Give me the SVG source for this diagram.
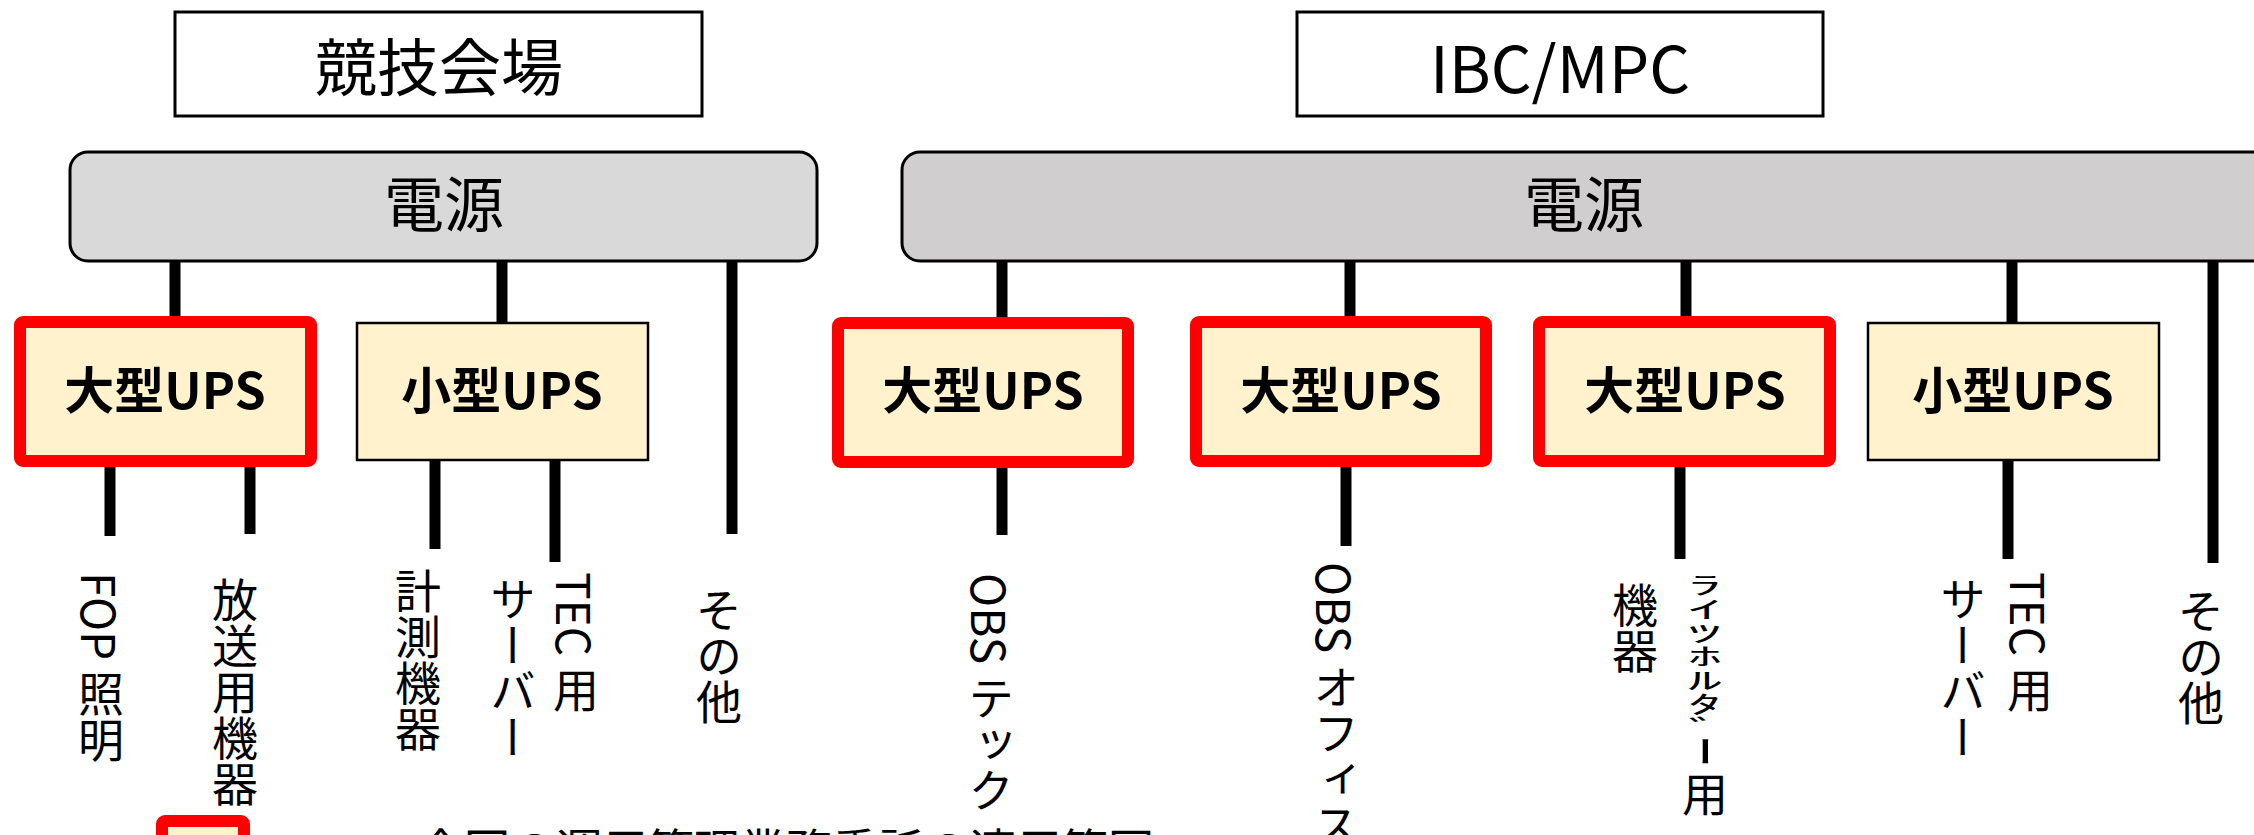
<svg xmlns="http://www.w3.org/2000/svg" width="2254" height="835" viewBox="0 0 2254 835">
<style>
text{font-family:"Noto Sans CJK JP","Liberation Sans",sans-serif;fill:#000}
.venue{fill:#fff;stroke:#000;stroke-width:3}
.power{stroke:#000;stroke-width:3}
.big{fill:#fff2cc;stroke:#ff0000;stroke-width:12}
.small{fill:#fff2cc;stroke:#000;stroke-width:2.5}
.t-venue{font-size:62px;text-anchor:middle;dominant-baseline:central}
.t-power{font-size:60px;text-anchor:middle;dominant-baseline:central}
.t-ups{font-size:50px;font-weight:700;text-anchor:middle;dominant-baseline:central}
.v{font-size:46px;writing-mode:vertical-rl}
.conn line{stroke:#000;stroke-width:11}
.legend-t{font-size:46px;dominant-baseline:central}
</style>
<rect width="2254" height="835" fill="#fff"/>
<g id="connectors" class="conn">
<line x1="175" y1="260" x2="175" y2="318"/>
<line x1="502" y1="260" x2="502" y2="323"/>
<line x1="732" y1="260" x2="732" y2="534"/>
<line x1="1002" y1="260" x2="1002" y2="318"/>
<line x1="1350" y1="260" x2="1350" y2="318"/>
<line x1="1686" y1="260" x2="1686" y2="318"/>
<line x1="2012" y1="260" x2="2012" y2="323"/>
<line x1="2213" y1="260" x2="2213" y2="563"/>
<line x1="110" y1="465" x2="110" y2="536"/>
<line x1="250" y1="465" x2="250" y2="534"/>
<line x1="435" y1="460" x2="435" y2="549"/>
<line x1="555" y1="460" x2="555" y2="562"/>
<line x1="1002" y1="465" x2="1002" y2="535"/>
<line x1="1346" y1="465" x2="1346" y2="546"/>
<line x1="1680" y1="465" x2="1680" y2="559"/>
<line x1="2008" y1="460" x2="2008" y2="559"/>
</g>
<g id="venue-kyogi">
<rect class="venue" x="175" y="12" width="527" height="104"/>
<text class="t-venue" x="439" y="64">競技会場</text>
</g>
<g id="venue-ibc">
<rect class="venue" x="1297" y="12" width="526" height="104"/>
<text class="t-venue" x="1560" y="65" style="font-size:64px">IBC/MPC</text>
</g>
<g id="power-left">
<rect class="power" x="70" y="152" width="747" height="109" rx="18" fill="#d9d9d9"/>
<text class="t-power" x="444" y="200">電源</text>
</g>
<g id="power-right">
<rect class="power" x="902" y="152" width="1400" height="109" rx="18" fill="#d0cece"/>
<text class="t-power" x="1584" y="200">電源</text>
</g>
<g id="ups-big-1">
<rect class="big" x="20" y="322" width="291" height="139" rx="3"/>
<text class="t-ups" x="165" y="387">大型UPS</text>
</g>
<g id="ups-small-1">
<rect class="small" x="357" y="323" width="291" height="137"/>
<text class="t-ups" x="502" y="387">小型UPS</text>
</g>
<g id="ups-big-2">
<rect class="big" x="838" y="323" width="290" height="139" rx="3"/>
<text class="t-ups" x="983" y="387">大型UPS</text>
</g>
<g id="ups-big-3">
<rect class="big" x="1196" y="322" width="290" height="139" rx="3"/>
<text class="t-ups" x="1341" y="387">大型UPS</text>
</g>
<g id="ups-big-4">
<rect class="big" x="1539" y="322" width="291" height="139" rx="3"/>
<text class="t-ups" x="1685" y="387">大型UPS</text>
</g>
<g id="ups-small-2">
<rect class="small" x="1868" y="323" width="291" height="137"/>
<text class="t-ups" x="2013" y="387">小型UPS</text>
</g>
<g id="label-fop"><text class="v" x="101" y="572">FOP 照明</text></g>
<g id="label-broadcast"><text class="v" x="235" y="577">放送用機器</text></g>
<g id="label-measure"><text class="v" x="418" y="568">計測機器</text></g>
<g id="label-tec-1"><text class="v" x="576" y="572">TEC 用</text><text class="v" x="513" y="576">サーバー</text></g>
<g id="label-other-1"><text class="v" x="719" y="587">その他</text></g>
<g id="label-obs-tech"><text class="v" x="991" y="573">OBS テック</text></g>
<g id="label-obs-office"><text class="v" x="1336" y="562">OBS オフィス</text></g>
<g id="label-rights">
<text class="v" transform="translate(1705 573) scale(1 0.35)" x="0" y="0" style="font-size:68px;text-orientation:upright">ﾗｲﾂﾎﾙﾀﾞ</text>
<text class="v" x="1683" y="736" style="font-size:60px;text-orientation:sideways">ｰ</text>
<text class="v" x="1705" y="771">用</text>
<text class="v" x="1635" y="582">機器</text>
</g>
<g id="label-tec-2"><text class="v" x="2030" y="572">TEC 用</text><text class="v" x="1963" y="576">サーバー</text></g>
<g id="label-other-2"><text class="v" x="2201" y="588">その他</text></g>
<g id="legend">
<rect class="big" x="162" y="821" width="82" height="60" rx="3"/>
<text class="legend-t" x="418" y="847">今回の運用管理業務委託の適用範囲</text>
</g>
</svg>
